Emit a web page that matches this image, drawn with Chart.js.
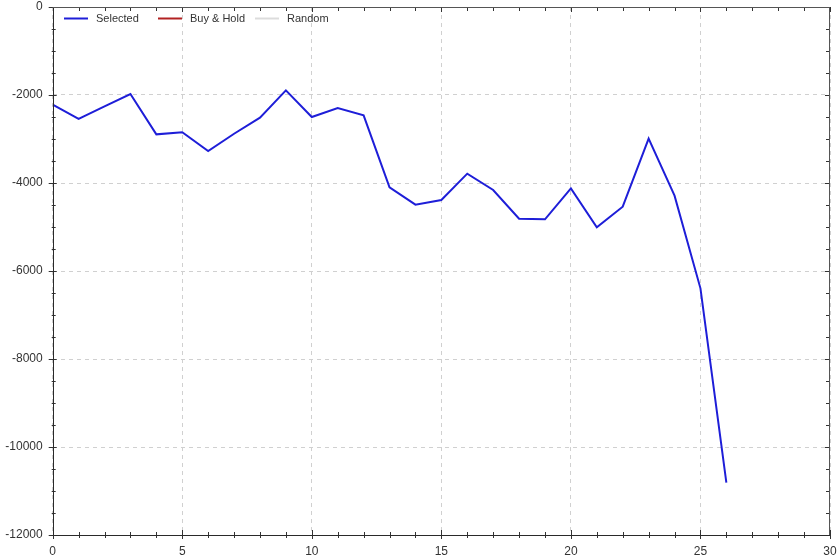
<!DOCTYPE html>
<html>
<head>
<meta charset="utf-8">
<script src="https://cdn.jsdelivr.net/npm/chart.js@4/dist/chart.umd.min.js"></script>
<style>
html,body{margin:0;padding:0;background:#fff;}
#wrap{width:840px;height:558px;position:relative;}
</style>
</head>
<body>
<div id="wrap"><canvas id="c" width="840" height="558"></canvas></div>
<script>
// ---- data ----
const periods = [0,1,2,3,4,5,6,7,8,9,10,11,12,13,14,15,16,17,18,19,20,21,22,23,24,25,26];
const selected = [-2220,-2545,-2260,-1977,-2894,-2848,-3273,-2880,-2515,-1894,-2500,-2295,-2462,-4098,-4492,-4386,-3788,-4159,-4811,-4826,-4121,-5008,-4538,-2992,-4288,-6394,-10811];
const buyHold = [];
const randomSeries = [];
const seriesNames = ["Selected","Buy & Hold","Random"];
const xTicks = [0,5,10,15,20,25,30];
const yTicks = [0,-2000,-4000,-6000,-8000,-10000,-12000];

const FONT = "'Liberation Sans', Arial, sans-serif";

const toXY = (xs, ys) => ys.map((v,i)=>({x:xs[i], y:v}));

const framePlugin = {
  id:'frame',
  afterDatasetsDraw(chart){
    const {ctx, chartArea:a, scales:{x,y}} = chart;
    ctx.save();
    ctx.lineWidth = 1;
    ctx.strokeStyle = '#333';
    ctx.beginPath();
    for(let v=x.min; v<=x.max; v+=1){
      const px = Math.round(x.getPixelForValue(v))+0.5;
      const major = v%5===0;
      ctx.moveTo(px, a.bottom-(major?5:3)); ctx.lineTo(px, a.bottom+(major?4:3));
      ctx.moveTo(px, a.top); ctx.lineTo(px, a.top+(major?5:4));
    }
    for(let v=y.min; v<=y.max; v+=500){
      const py = Math.round(y.getPixelForValue(v))+0.5;
      const major = v%2000===0;
      ctx.moveTo(a.left-(major?4:1), py); ctx.lineTo(a.left+(major?4:3), py);
      ctx.moveTo(a.right, py); ctx.lineTo(a.right-(major?5:4), py);
    }
    ctx.stroke();
    ctx.strokeStyle = '#2a2a2a';
    ctx.beginPath();
    ctx.moveTo(Math.round(a.left)+0.5, a.top); ctx.lineTo(Math.round(a.left)+0.5, a.bottom);
    ctx.moveTo(a.left, Math.round(a.bottom)+0.5); ctx.lineTo(a.right, Math.round(a.bottom)+0.5);
    ctx.stroke();
    ctx.strokeStyle = '#555';
    ctx.beginPath();
    ctx.moveTo(a.left, Math.round(a.top)+0.5); ctx.lineTo(a.right, Math.round(a.top)+0.5);
    ctx.moveTo(Math.round(a.right)-0.5, a.top); ctx.lineTo(Math.round(a.right)-0.5, a.bottom);
    ctx.stroke();
    // legend inside the plot
    const items = chart.data.datasets;
    const starts = [64,158,255];
    ctx.font = '11px ' + FONT;
    ctx.textBaseline = 'middle';
    ctx.textAlign = 'left';
    items.forEach((ds,i)=>{
      const lx = starts[i];
      const ly = 18.5;
      ctx.strokeStyle = ds.borderColor;
      ctx.lineWidth = 2;
      ctx.beginPath(); ctx.moveTo(lx, ly); ctx.lineTo(lx+24, ly); ctx.stroke();
      ctx.fillStyle = '#333';
      ctx.fillText(ds.label, lx+32, ly);
    });
    ctx.restore();
  }
};

function zeroPad(s){ s.paddingTop = 0; s.paddingBottom = 0; s.paddingLeft = 0; s.paddingRight = 0; }

new Chart(document.getElementById('c'), {
  type:'line',
  data:{
    datasets:[
      {label:seriesNames[0], data:toXY(periods, selected), borderColor:'#1e1ed8', borderWidth:2, pointRadius:0, tension:0, fill:false},
      {label:seriesNames[1], data:buyHold, borderColor:'#b22222', borderWidth:2, pointRadius:0, fill:false},
      {label:seriesNames[2], data:randomSeries, borderColor:'#dcdcdc', borderWidth:2, pointRadius:0, fill:false}
    ]
  },
  options:{
    responsive:false,
    animation:false,
    layout:{padding:{top:7,right:10,left:0,bottom:0}},
    plugins:{legend:{display:false}, tooltip:{enabled:false}},
    scales:{
      x:{
        type:'linear', min:0, max:30,
        afterBuildTicks(s){ s.ticks = xTicks.map(v=>({value:v})); },
        afterFit(s){ s.height = 23; zeroPad(s); },
        border:{display:false, dash:[4,4]},
        grid:{color:'#d0d0d0', lineWidth:1, drawTicks:false},
        ticks:{padding:9, color:'#333', font:{family:FONT, size:12}, maxRotation:0, autoSkip:false,
               callback:(v)=>String(v)}
      },
      y:{
        type:'linear', min:-12000, max:0,
        afterBuildTicks(s){ s.ticks = yTicks.map(v=>({value:v})); },
        afterFit(s){ s.width = 52.7; zeroPad(s); },
        border:{display:false, dash:[4,4]},
        grid:{color:'#d0d0d0', lineWidth:1, drawTicks:false},
        ticks:{padding:10, color:'#333', font:{family:FONT, size:12}, autoSkip:false,
               callback:(v)=>String(v)}
      }
    }
  },
  plugins:[framePlugin]
});
</script>
</body>
</html>
